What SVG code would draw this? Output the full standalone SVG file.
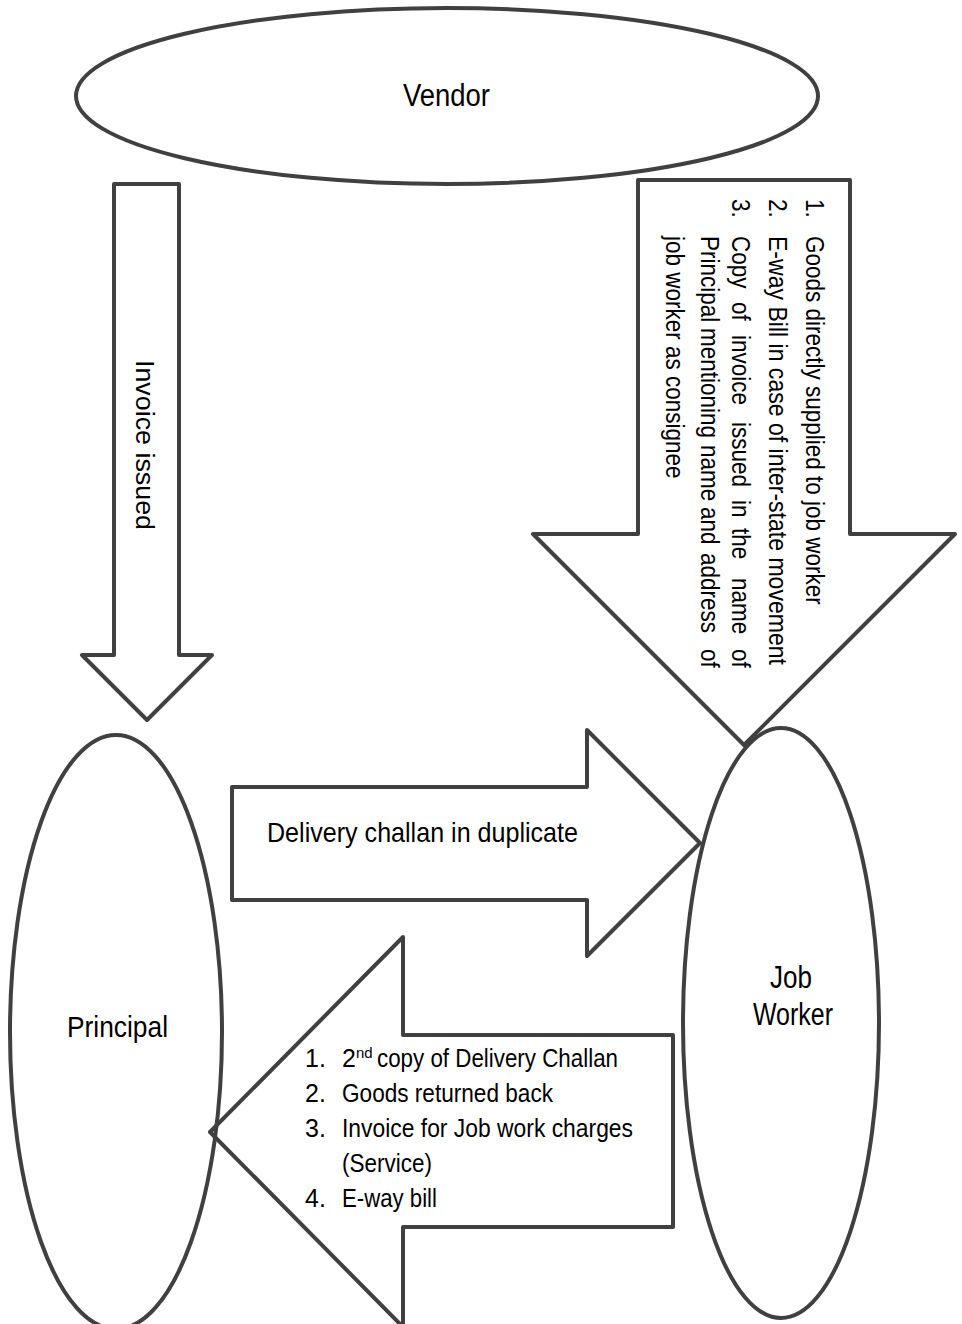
<svg xmlns="http://www.w3.org/2000/svg" width="962" height="1324" viewBox="0 0 962 1324">
<style>
.shape{fill:none;stroke:#404040;stroke-width:4;stroke-linejoin:round}
.t{font-family:"Liberation Sans",Arial,sans-serif;fill:#000}
</style>
<rect x="0" y="0" width="962" height="1324" fill="#fff"/>
<g id="connectors">
  <g id="arrow-invoice">
    <polygon class="shape" points="114,184 179,184 179,655 212,655 147,720 82,655 114,655"/>
    <text class="t" transform="rotate(90)" x="360" y="-136" font-size="26" textLength="170" lengthAdjust="spacingAndGlyphs">Invoice issued</text>
  </g>
  <g id="arrow-goods">
    <polygon class="shape" points="638,180 850,180 850,534 955,534 744,745 533,534 638,534"/>
    <g transform="matrix(0,0.9,-1,0,0,0)" class="t" font-size="25">
      <text x="221.1" y="-806">1.</text>
      <text x="262.2" y="-806">Goods directly supplied to job worker</text>
      <text x="221.1" y="-769">2.</text>
      <text x="262.2" y="-769" textLength="476.7" lengthAdjust="spacingAndGlyphs">E-way Bill in case of inter-state movement</text>
      <text x="221.1" y="-732">3.</text>
      <text y="-732"><tspan x="262.2">Copy</tspan><tspan x="335.6">of</tspan><tspan x="372.2">invoice</tspan><tspan x="468.9">issued</tspan><tspan x="555.6">in</tspan><tspan x="586.7">the</tspan><tspan x="642.2">name</tspan><tspan x="721.1">of</tspan></text>
      <text y="-701"><tspan x="262.2">Principal</tspan><tspan x="364.4">mentioning</tspan><tspan x="494.4">name</tspan><tspan x="563.3">and</tspan><tspan x="614.4">address</tspan><tspan x="721.1">of</tspan></text>
      <text x="262.2" y="-666">job worker as consignee</text>
    </g>
  </g>
  <g id="arrow-challan">
    <polygon class="shape" points="232,787 587,787 587,730 700,843 587,956 587,900 232,900"/>
    <text class="t" x="267" y="842" font-size="28" textLength="311" lengthAdjust="spacingAndGlyphs">Delivery challan in duplicate</text>
  </g>
  <g id="arrow-return">
    <polygon class="shape" points="673,1035 403,1035 403,937 210,1132 403,1327 403,1227 673,1227"/>
    <g class="t" font-size="25">
      <text x="305" y="1067">1.</text>
      <text x="342" y="1067">2<tspan font-size="15" dy="-9">nd</tspan></text>
      <text x="377" y="1067" textLength="241" lengthAdjust="spacingAndGlyphs">copy of Delivery Challan</text>
      <text x="305" y="1102">2.</text>
      <text x="342" y="1102" textLength="211" lengthAdjust="spacingAndGlyphs">Goods returned back</text>
      <text x="305" y="1137">3.</text>
      <text x="342" y="1137" textLength="291" lengthAdjust="spacingAndGlyphs">Invoice for Job work charges</text>
      <text x="342" y="1172" textLength="90" lengthAdjust="spacingAndGlyphs">(Service)</text>
      <text x="305" y="1207">4.</text>
      <text x="342" y="1207" textLength="95" lengthAdjust="spacingAndGlyphs">E-way bill</text>
    </g>
  </g>
</g>
<g id="vendor">
  <ellipse class="shape" cx="447" cy="96" rx="371" ry="88"/>
  <text class="t" x="403" y="106" font-size="31" textLength="87" lengthAdjust="spacingAndGlyphs">Vendor</text>
</g>
<g id="principal">
  <ellipse class="shape" cx="116" cy="1032" rx="106" ry="297"/>
  <text class="t" x="67" y="1037" font-size="30" textLength="101" lengthAdjust="spacingAndGlyphs">Principal</text>
</g>
<g id="jobworker">
  <ellipse class="shape" cx="781" cy="1023" rx="98" ry="295"/>
  <text class="t" x="770" y="988" font-size="31" textLength="42" lengthAdjust="spacingAndGlyphs">Job</text>
  <text class="t" x="753" y="1025" font-size="31" textLength="80" lengthAdjust="spacingAndGlyphs">Worker</text>
</g>
</svg>
